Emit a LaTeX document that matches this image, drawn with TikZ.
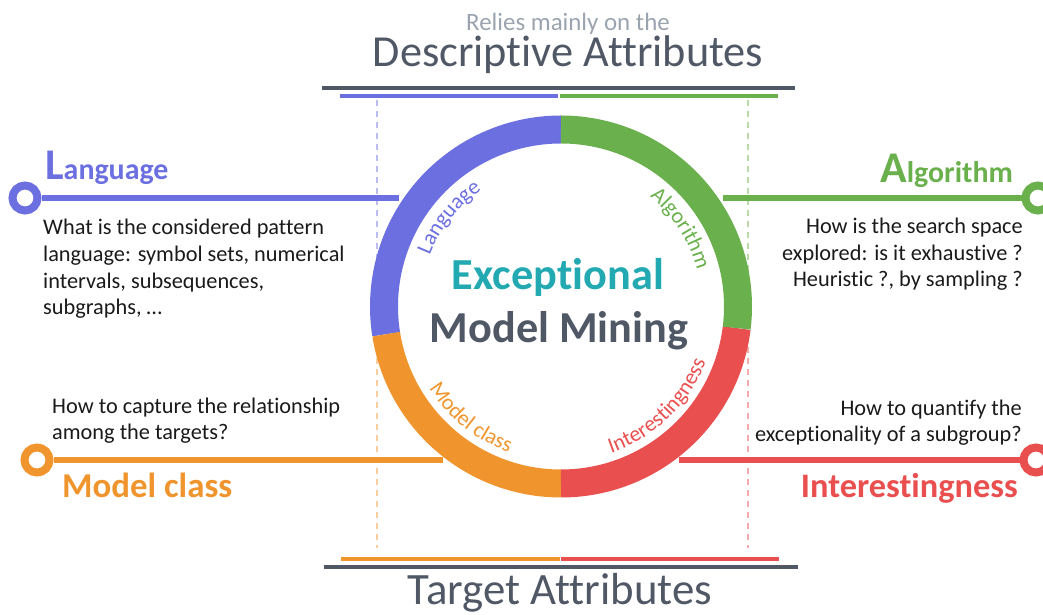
\documentclass[tikz,border=0pt]{standalone}
\usepackage{fontspec}
\setmainfont{Carlito}[Ligatures=NoCommon]
\usetikzlibrary{decorations.text}
\definecolor{cblue}{HTML}{6B6FE0}
\definecolor{cgreen}{HTML}{6AB04C}
\definecolor{cred}{HTML}{EA4F4F}
\definecolor{corange}{HTML}{F0952D}
\definecolor{cteal}{HTML}{22A9B1}
\definecolor{cdark}{HTML}{505866}
\definecolor{cgray}{HTML}{9AA3AE}
\definecolor{ctext}{HTML}{1A1A1A}
\definecolor{lblue}{HTML}{BBBDF2}
\definecolor{lgreen}{HTML}{B8DBA8}
\definecolor{lorange}{HTML}{F9CD9E}
\definecolor{lred}{HTML}{F5ABAB}
\newcommand\fs[2]{\fontsize{#1}{#2}\selectfont}
\newcommand\arcfont{\fontsize{22}{22}\selectfont}
\begin{document}
\begin{tikzpicture}[x=1bp,y=1bp,
  endcirc/.style={circle, draw=#1, fill=white, line width=8bp, minimum size=25bp, inner sep=0},
  link/.style={draw=#1, line width=6bp},
  seg/.style={draw=#1, line width=28bp},
  guide/.style={draw=#1, line width=1.5bp, dash pattern=on 6bp off 5bp},
  bar/.style={draw=#1, line width=3.5bp},
  desc/.style={font=\fs{22.4}{27}, text=ctext, inner sep=0},
  arclabel/.style={decorate, decoration={text along path, text={|\arcfont|#1}, text align=center}}
]
\useasboundingbox (0,0) rectangle (1043,615);
\coordinate (C) at (561,308.5);

% title texts
\node[anchor=base, text=cgray, font=\fs{25}{25}, inner sep=0] (rel) at (568,584) {Relies mainly on the};
\node[anchor=base, text=cdark, font=\fs{44.5}{44.5}, inner sep=0] (descattr) at (568,548) {Descriptive Attributes};
\node[anchor=base, text=cdark, font=\fs{45}{45}, inner sep=0] (tgt) at (560,10) {Target Attributes};

% top bars
\coordinate (g1) at (322,527); \coordinate (g2) at (795,527);
\coordinate (b1) at (340,519); \coordinate (b2) at (558,519);
\coordinate (b3) at (560,519); \coordinate (b4) at (778,519);
\draw[bar=cdark, line width=4bp] (g1) -- (g2);
\draw[bar=cblue] (b1) -- (b2);
\draw[bar=cgreen] (b3) -- (b4);
% bottom bars
\coordinate (h1) at (324,48); \coordinate (h2) at (798,48);
\coordinate (o1) at (341,56); \coordinate (o2) at (560,56);
\coordinate (r1) at (561,56); \coordinate (r2) at (779,56);
\draw[bar=corange] (o1) -- (o2);
\draw[bar=cred] (r1) -- (r2);
\draw[bar=cdark, line width=4bp] (h1) -- (h2);

% dashed guides
\coordinate (dl1) at (377,515); \coordinate (dl2) at (377,279); \coordinate (dl3) at (377,67);
\coordinate (dr1) at (748,515); \coordinate (dr2) at (748,279); \coordinate (dr3) at (748,67);
\draw[guide=lblue] (dl1) -- (dl2);
\draw[guide=lorange] (dl2) -- (dl3);
\draw[guide=lgreen] (dr1) -- (dr2);
\draw[guide=lred] (dr2) -- (dr3);

% connector lines with end circles
\node[endcirc=cblue] (Lc) at (25,417) {};
\coordinate (Le) at (399,417);
\node[endcirc=cgreen] (Ac) at (1038,417) {};
\coordinate (As) at (723,417);
\node[endcirc=corange] (Mc) at (37,155) {};
\coordinate (Me) at (443,155);
\node[endcirc=cred] (Ic) at (1036,155) {};
\coordinate (Is) at (679,155);
\draw[link=cblue] (Lc) -- (Le);
\draw[link=cgreen] (As) -- (Ac);
\draw[link=corange] (Mc) -- (Me);
\draw[link=cred] (Is) -- (Ic);

% ring
\draw[seg=cblue] ([shift={(90:177)}]C) arc[start angle=90, end angle=189, radius=177];
\draw[seg=corange] ([shift={(189:177)}]C) arc[start angle=189, end angle=270, radius=177];
\draw[seg=cred] ([shift={(270:177)}]C) arc[start angle=270, end angle=353, radius=177];
\draw[seg=cgreen] ([shift={(-7:177)}]C) arc[start angle=-7, end angle=90, radius=177];

% arc labels
\path[arclabel=Language, decoration={text color=cblue}] ([shift={(166.5:141)}]C) arc[start angle=166.5, end angle=116.5, radius=141];
\path[arclabel=Algorithm, decoration={text color=cgreen}] ([shift={(60:141)}]C) arc[start angle=60, end angle=6, radius=141];
\path[arclabel=Model class, decoration={text color=corange}] ([shift={(191:155)}]C) arc[start angle=191, end angle=271, radius=155];
\path[arclabel=Interestingness, decoration={text color=cred}] ([shift={(-90:155)}]C) arc[start angle=-90, end angle=-2, radius=155];

% center title
\node[anchor=base, text=cteal, font=\bfseries\fs{44.5}{44.5}, inner sep=0] (ex) at (558,325) {Exceptional};
\node[anchor=base, text=cdark, font=\bfseries\fs{44.4}{44.4}, inner sep=0] (mm) at (559,272) {Model Mining};

% headings
\node[anchor=base west, text=cblue, inner sep=0, font=\bfseries] (Lh) at (45,435) {\fs{44}{44}L\fs{30}{30}anguage};
\node[anchor=base east, text=cgreen, inner sep=0, font=\bfseries] (Ah) at (1013,432) {\fs{44}{44}A\fs{30}{30}lgorithm};
\node[anchor=base west, text=corange, inner sep=0, font=\bfseries\fs{35}{35}] (Mh) at (62,117) {Model class};
\node[anchor=base east, text=cred, inner sep=0, font=\bfseries\fs{34.5}{34.5}] (Ih) at (1018,117) {Interestingness};

% descriptions (base anchor = last line)
\node[desc, anchor=base west, align=left] (Ld) at (43,300) {What is the considered pattern\\language: symbol sets, numerical\\intervals, subsequences,\\subgraphs, …};
\node[desc, anchor=base east, align=right] (Ad) at (1023,328) {How is the search space\\explored: is it exhaustive ?\\Heuristic ?, by sampling ?};
\node[desc, anchor=base west, align=left] (Md) at (52,175) {How to capture the relationship\\among the targets?};
\node[desc, anchor=base east, align=right] (Id) at (1022,173) {How to quantify the\\exceptionality of a subgroup?};
\end{tikzpicture}
\end{document}
